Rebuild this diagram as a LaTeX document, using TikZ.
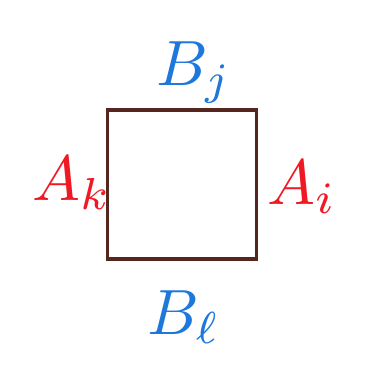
\documentclass[tikz,border=0pt]{standalone}
\usepackage{graphicx}
\begin{document}
\begin{tikzpicture}[x=1pt,y=1pt,
  sq/.style={draw=sqbrown, line width=3.2pt, minimum width=149pt, minimum height=149pt, inner sep=0pt},
  redlab/.style={text=labred, inner sep=0pt, anchor=base west},
  bluelab/.style={text=labblue, inner sep=0pt, anchor=base west}]
\definecolor{sqbrown}{RGB}{85,38,30}
\definecolor{labred}{RGB}{240,25,35}
\definecolor{labblue}{RGB}{30,120,220}
\useasboundingbox[fill=white] (0,0) rectangle (389,-372);
\node[sq] (square) at (182,-184.5) {};
\node[bluelab] (bj) at (156,-85) {\scalebox{6.4}{$B_j$}};
\node[redlab] (ak) at (32,-200) {\scalebox{6.4}{$A_k$}};
\node[redlab] (ai) at (267,-204) {\scalebox{6.4}{$A_i$}};
\node[bluelab] (bl) at (147,-334) {\scalebox{6.4}{$B_\ell$}};
\end{tikzpicture}
\end{document}
